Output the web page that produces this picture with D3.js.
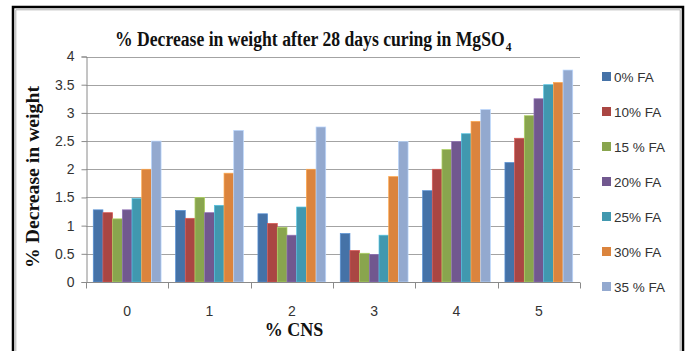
<!DOCTYPE html>
<html>
<head>
<meta charset="utf-8">
<script src="https://cdn.jsdelivr.net/npm/d3@7"></script>
<style>
  html, body { margin: 0; padding: 0; background: #fff; }
  svg { display: block; }
  .tick-label { font-family: "Liberation Sans Narrow", "Arial Narrow", "Liberation Sans", sans-serif; fill: #333; }
  .serif-bold { font-family: "Liberation Serif", "Times New Roman", serif; font-weight: bold; fill: #111; }
</style>
</head>
<body>
<svg id="chart" width="694" height="351"></svg>
<script>
// Cement-nano-silica content (% CNS) on the x axis
const categories = ["0", "1", "2", "3", "4", "5"];
// Fly-ash replacement levels, one bar per level in every group
const seriesNames = ["0% FA", "10% FA", "15 % FA", "20% FA", "25% FA", "30% FA", "35 % FA"];
const seriesColors = ["#4572A7", "#AA4643", "#89A54E", "#71588F", "#4198AF", "#DB843D", "#93A9CF"];
// % decrease in weight, per fly-ash level, across the CNS groups 0..5
const fa0  = [1.28, 1.27, 1.21, 0.86, 1.62, 2.12];
const fa10 = [1.23, 1.13, 1.04, 0.56, 2.00, 2.55];
const fa15 = [1.12, 1.50, 0.97, 0.51, 2.35, 2.95];
const fa20 = [1.28, 1.23, 0.83, 0.49, 2.49, 3.25];
const fa25 = [1.48, 1.36, 1.33, 0.83, 2.63, 3.50];
const fa30 = [2.00, 1.93, 2.00, 1.87, 2.85, 3.54];
const fa35 = [2.50, 2.69, 2.75, 2.49, 3.06, 3.76];
const seriesValues = [fa0, fa10, fa15, fa20, fa25, fa30, fa35];
const yTicks = [0, 0.5, 1, 1.5, 2, 2.5, 3, 3.5, 4];

const svg = d3.select("#chart");

// outer frame
svg.append("rect").attr("x", 13).attr("y", 7).attr("width", 670).attr("height", 360)
  .attr("fill", "none").attr("stroke", "#000").attr("stroke-width", 2.5);
svg.append("path").attr("d", "M15.8,360 V9.8 H680.2 V360")
  .attr("fill", "none").attr("stroke", "#b0b0b0").attr("stroke-width", 1);

const plot = { left: 86, right: 580, top: 56.5, bottom: 282 };

const x = d3.scaleBand().domain(categories).range([plot.left, plot.right]).paddingInner(0).paddingOuter(0);
const y = d3.scaleLinear().domain([0, 4]).range([plot.bottom, plot.top]);

// horizontal gridlines
svg.append("g").selectAll("line").data(yTicks.filter(d => d > 0)).join("line")
  .attr("x1", plot.left).attr("x2", plot.right)
  .attr("y1", d => Math.round(y(d)) + 0.5).attr("y2", d => Math.round(y(d)) + 0.5)
  .attr("stroke", "#a3a3a3").attr("stroke-width", 1);

// bars: each group leaves a 150% gap relative to one bar width
const inner = d3.scaleBand().domain(d3.range(seriesNames.length))
  .range([0, x.bandwidth()]).paddingInner(0).paddingOuter(0.75);

const groups = svg.append("g").selectAll("g").data(categories).join("g")
  .attr("transform", d => `translate(${x(d)},0)`);

groups.selectAll("rect").data((c, ci) => seriesValues.map((vals, si) => ({ si, v: vals[ci] })))
  .join("rect")
  .attr("x", d => inner(d.si))
  .attr("width", inner.bandwidth())
  .attr("y", d => y(d.v))
  .attr("height", d => y(0) - y(d.v))
  .attr("fill", d => seriesColors[d.si])
  .attr("stroke", d => d3.color(seriesColors[d.si]).brighter(0.7))
  .attr("stroke-width", 0.7);

// y axis
const yAxis = d3.axisLeft(y).tickValues(yTicks).tickSize(5).tickPadding(7)
  .tickFormat(d => String(d));
const yg = svg.append("g").attr("transform", `translate(${plot.left + 0.5},0)`).call(yAxis);
yg.select(".domain").attr("stroke", "#8a8a8a");
yg.selectAll(".tick line").attr("stroke", "#8a8a8a");
yg.selectAll(".tick text").attr("class", "tick-label").attr("font-size", 14).attr("fill", "#333");

// x axis with ticks on category boundaries
const xg = svg.append("g").attr("transform", `translate(0,${plot.bottom + 0.5})`);
xg.append("line").attr("x1", plot.left).attr("x2", plot.right).attr("stroke", "#8a8a8a");
const bounds = categories.map(c => x(c)).concat([plot.right]);
xg.selectAll("line.tk").data(bounds).join("line").attr("class", "tk")
  .attr("x1", d => Math.round(d) + 0.5).attr("x2", d => Math.round(d) + 0.5)
  .attr("y1", 0).attr("y2", 6).attr("stroke", "#8a8a8a");
xg.selectAll("text").data(categories).join("text")
  .attr("class", "tick-label").attr("font-size", 14)
  .attr("x", d => x(d) + x.bandwidth() / 2).attr("y", 33)
  .attr("text-anchor", "middle").text(d => d);

// title: a horizontally condensed serif line, with the sulphate subscript after it
const titleG = svg.append("g");
const titleMain = titleG.append("text").attr("class", "serif-bold")
  .attr("x", 0).attr("y", 0).attr("font-size", 20)
  .text("% Decrease in weight after 28 days curing in MgSO");
const mainW = titleMain.node().getComputedTextLength();
titleG.append("text").attr("class", "serif-bold")
  .attr("x", mainW + 1).attr("y", 5).attr("font-size", 13)
  .text("4");
const sx = 390 / mainW;
titleG.attr("transform", `translate(115,46) scale(${sx},1)`);

// axis titles
svg.append("text").attr("class", "serif-bold").attr("font-size", 18)
  .attr("transform", "translate(39,177) rotate(-90)")
  .attr("text-anchor", "middle")
  .attr("textLength", 182).attr("lengthAdjust", "spacingAndGlyphs")
  .text("% Decrease in weight");

svg.append("text").attr("class", "serif-bold").attr("font-size", 18)
  .attr("x", 294).attr("y", 336).attr("text-anchor", "middle")
  .text("% CNS");

// legend
const legend = svg.append("g").selectAll("g").data(seriesNames).join("g")
  .attr("transform", (d, i) => `translate(602,${76.5 + i * 35})`);
legend.append("rect").attr("x", 0).attr("y", -4.5).attr("width", 9).attr("height", 9)
  .attr("fill", (d, i) => seriesColors[i]);
legend.append("text").attr("class", "tick-label").attr("font-size", 13.5)
  .attr("x", 12).attr("y", 5).text(d => d);
</script>
</body>
</html>
